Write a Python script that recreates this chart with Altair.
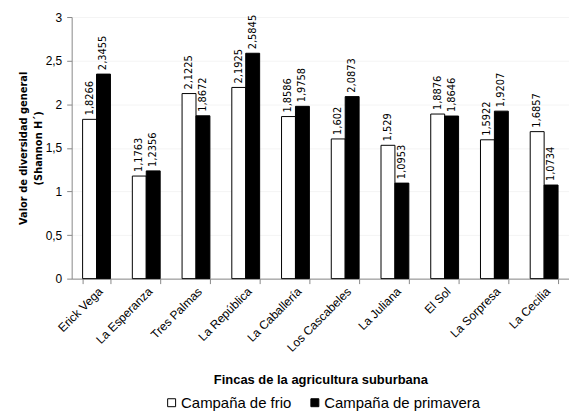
import altair as alt
import pandas as pd

fincas = ["Erick Vega", "La Esperanza", "Tres Palmas", "La República", "La Caballería",
          "Los Cascabeles", "La Juliana", "El Sol", "La Sorpresa", "La Cecilia"]
frio = [1.8266, 1.1763, 2.1225, 2.1925, 1.8586, 1.602, 1.529, 1.8876, 1.5922, 1.6857]
primavera = [2.3455, 1.2356, 1.8672, 2.5845, 1.9758, 2.0873, 1.0953, 1.8646, 1.9207, 1.0734]
series = ["Campaña de frio", "Campaña de primavera"]

rows = []
for f, a, b in zip(fincas, frio, primavera):
    rows.append({"finca": f, "serie": series[0], "valor": a, "etiqueta": str(a).replace(".", ",")})
    rows.append({"finca": f, "serie": series[1], "valor": b, "etiqueta": str(b).replace(".", ",")})
df = pd.DataFrame(rows)

narrow = "DejaVu Sans Condensed, Liberation Sans, sans-serif"
sans = "Liberation Sans, Arial, sans-serif"

x = alt.X("finca:N", sort=fincas,
          scale=alt.Scale(paddingInner=0.44, paddingOuter=0.22),
          axis=alt.Axis(title="Fincas de la agricultura suburbana", labelAngle=-45,
                        labelAlign="right", labelBaseline="top", labelFont=sans,
                        labelFontSize=12, labelColor="black", titleFont=sans,
                        titleFontSize=13, titleFontWeight="bold", titleColor="black",
                        titlePadding=20, domainColor="#888888", tickColor="#888888",
                        tickBand="extent", tickSize=5, labelPadding=2))
xo = alt.XOffset("serie:N", sort=series)

bars = alt.Chart(df).mark_bar(stroke="black", strokeWidth=1).encode(
    x=x,
    xOffset=xo,
    y=alt.Y("valor:Q", scale=alt.Scale(domain=[0, 3]),
            axis=alt.Axis(title=["Valor de diversidad general", "(Shannon H´)"],
                          values=[0, 0.5, 1, 1.5, 2, 2.5, 3],
                          labelExpr="replace(toString(datum.value), '.', ',')",
                          labelFont=sans, labelFontSize=12, labelColor="black",
                          labelPadding=5, titleFont=narrow, titleFontSize=11,
                          titleFontWeight="bold", titleColor="black", titlePadding=2,
                          titleLineHeight=15,
                          domainColor="#888888", tickColor="#888888", tickSize=5,
                          gridColor="#f4f4f4")),
    color=alt.Color("serie:N", sort=series,
                    scale=alt.Scale(domain=series, range=["white", "black"]),
                    legend=alt.Legend(title=None, orient="none", direction="horizontal",
                                      legendX=93, legendY=380, symbolType="square",
                                      symbolSize=64, symbolStrokeColor="black",
                                      symbolStrokeWidth=1, labelFont=sans,
                                      labelFontSize=15, labelColor="black",
                                      columnPadding=16, labelOffset=2)),
)

labels = alt.Chart(df).mark_text(angle=270, align="left", baseline="middle", dx=4,
                                  font=narrow, fontSize=11, color="black").encode(
    x=alt.X("finca:N", sort=fincas),
    xOffset=xo,
    y="valor:Q",
    text="etiqueta:N",
)

chart = alt.layer(bars, labels).properties(
    width=500, height=263,
    padding={"left": 9, "top": 2, "right": 0, "bottom": 0},
).configure_view(stroke=None).configure_axis(domainWidth=1)

chart.save("out.html", embed_options={"renderer": "svg", "actions": False})
